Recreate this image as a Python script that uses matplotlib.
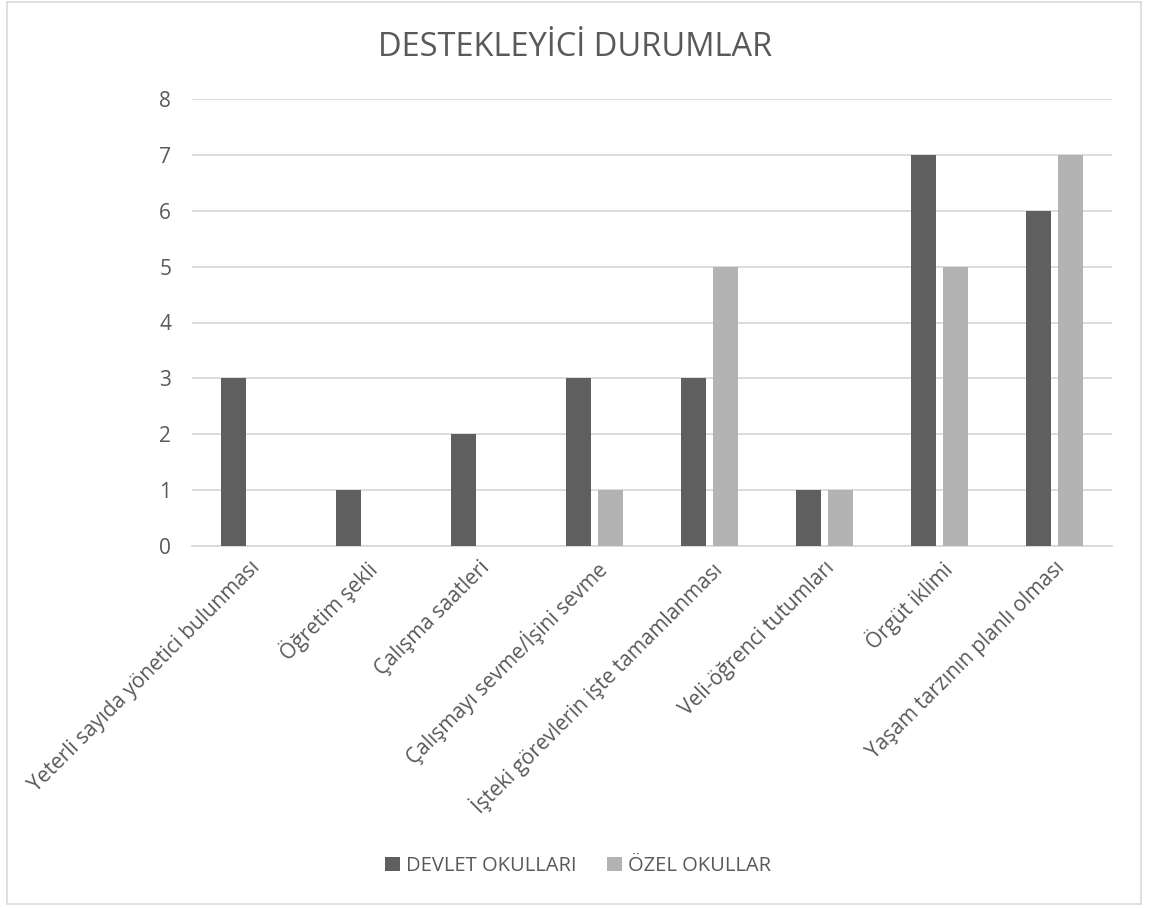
import numpy as np
import matplotlib
matplotlib.use('Agg')
import matplotlib.pyplot as plt
from matplotlib.patches import Rectangle

categories = ['Yeterli sayıda yönetici bulunması', 'Öğretim şekli', 'Çalışma saatleri',
              'Çalışmayı sevme/İşini sevme', 'İşteki görevlerin işte tamamlanması',
              'Veli-öğrenci tutumları', 'Örgüt iklimi', 'Yaşam tarzının planlı olması']
devlet = [3, 1, 2, 3, 3, 1, 7, 6]
ozel = [0, 0, 0, 1, 5, 1, 5, 7]
series_names = ['DEVLET OKULLARI', 'ÖZEL OKULLAR']
y_ticks = [0, 1, 2, 3, 4, 5, 6, 7, 8]

plt.rcParams['font.family'] = ['Open Sans', 'DejaVu Sans']
txt = '#595959'
grid = '#d9d9d9'

W, H = 1150, 908
fig = plt.figure(figsize=(W / 100, H / 100), dpi=100)

# chart border
fig.patches.append(Rectangle((7 / W, 1 - 904 / H), (1141 - 7) / W, (904 - 2) / H,
                             transform=fig.transFigure, fill=False,
                             edgecolor='#d9d9d9', linewidth=1.2))

ax = fig.add_axes([192 / W, 1 - 546 / H, (1112 - 192) / W, (546 - 99) / H])

x = np.arange(len(categories))
w = 0.22
off = 0.14
ax.bar(x - off, devlet, w, color='#5f5f5f', label=series_names[0], zorder=3)
ax.bar(x + off, ozel, w, color='#b3b3b3', label=series_names[1], zorder=3)

ax.set_xlim(-0.5, len(categories) - 0.5)
ax.set_ylim(0, 8)
ax.set_yticks(y_ticks)
ax.yaxis.grid(True, color=grid, linewidth=1.3, zorder=0)
ax.set_axisbelow(True)
for s in ['top', 'right', 'left']:
    ax.spines[s].set_visible(False)
ax.spines['bottom'].set_color(grid)
ax.spines['bottom'].set_linewidth(1.3)
ax.tick_params(axis='y', length=0, pad=15, labelsize=15, labelcolor=txt)
ax.tick_params(axis='x', length=0, pad=8, labelsize=15, labelcolor=txt)
ax.set_xticks(x)
ax.set_xticklabels(categories, rotation=45, ha='right', rotation_mode='anchor')

fig.text(575 / W, 1 - 47 / H, 'DESTEKLEYİCİ DURUMLAR', ha='center', va='center',
         fontsize=23.5, color=txt)

leg = fig.legend(loc='center', bbox_to_anchor=(578 / W, 1 - 866 / H), ncol=2,
                 frameon=False, fontsize=14.5, handlelength=0.75, handleheight=0.75,
                 handletextpad=0.3, columnspacing=1.5, labelcolor=txt)

fig.savefig('out.png', dpi=100, facecolor='white')
